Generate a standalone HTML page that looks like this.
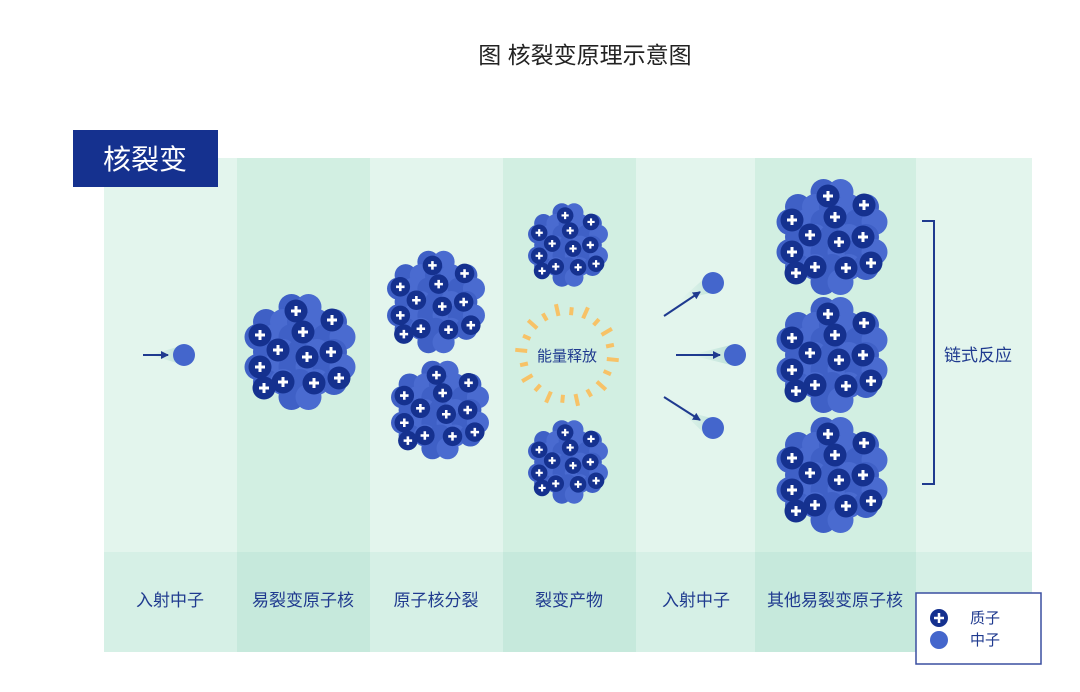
<!DOCTYPE html>
<html><head><meta charset="utf-8"><style>
body{margin:0;width:1080px;height:687px;background:#fff;overflow:hidden;font-family:"Liberation Sans","Noto Sans CJK SC",sans-serif}
</style></head><body>
<svg id="s" width="1080" height="687" xmlns="http://www.w3.org/2000/svg" font-family="Liberation Sans, Noto Sans CJK SC, sans-serif">
<defs>
<linearGradient id="tr" x1="0" x2="1"><stop offset="0" stop-color="#c4e6dc" stop-opacity="0"/><stop offset="1" stop-color="#b9dfd6"/></linearGradient>
<marker id="ah" markerWidth="8" markerHeight="8" refX="7" refY="4" orient="auto" markerUnits="userSpaceOnUse"><path d="M0,0 L8,4 L0,8z" fill="#1f3a8f"/></marker>
</defs>
<text x="585" y="63" font-size="23" text-anchor="middle" fill="#222">图 核裂变原理示意图</text>
<rect x="104" y="158" width="928" height="394" fill="#e3f5ed"/>
<rect x="237" y="158" width="133" height="394" fill="#d2efe2"/>
<rect x="503" y="158" width="133" height="394" fill="#d2efe2"/>
<rect x="755" y="158" width="161" height="394" fill="#d2efe2"/>
<rect x="104" y="552" width="928" height="100" fill="#d6f0e6"/>
<rect x="237" y="552" width="133" height="100" fill="#c6e9dc"/>
<rect x="503" y="552" width="133" height="100" fill="#c6e9dc"/>
<rect x="755" y="552" width="161" height="100" fill="#c6e9dc"/>
<rect x="73" y="130" width="145" height="57" fill="#15318f"/>
<text x="145" y="169" font-size="28" text-anchor="middle" fill="#fff">核裂变</text>
<g id="cl"></g>
<g id="sun"></g>
<text x="567" y="361" font-size="15" text-anchor="middle" fill="#1f3a8f">能量释放</text>
<path d="M150,355 L184,345 L184,365z" fill="url(#tr)"/>
<line x1="143" y1="355" x2="168" y2="355" stroke="#1f3a8f" stroke-width="2" marker-end="url(#ah)"/>
<circle cx="184" cy="355" r="11" fill="#4466cc"/>
<path d="M680,300 L707,276 L719,291z" fill="url(#tr)"/>
<line x1="664" y1="316" x2="700" y2="292" stroke="#1f3a8f" stroke-width="2" marker-end="url(#ah)"/>
<circle cx="713" cy="283" r="11" fill="#4466cc"/>
<path d="M690,355 L735,344 L735,366z" fill="url(#tr)"/>
<line x1="676" y1="355" x2="720" y2="355" stroke="#1f3a8f" stroke-width="2" marker-end="url(#ah)"/>
<circle cx="735" cy="355" r="11" fill="#4466cc"/>
<path d="M680,410 L719,420 L707,436z" fill="url(#tr)"/>
<line x1="664" y1="397" x2="700" y2="420" stroke="#1f3a8f" stroke-width="2" marker-end="url(#ah)"/>
<circle cx="713" cy="428" r="11" fill="#4466cc"/>
<path d="M922,221 L934,221 L934,484 L922,484" fill="none" stroke="#1f3a8f" stroke-width="2"/>
<text x="978" y="361" font-size="17" text-anchor="middle" fill="#1f3a8f">链式反应</text>
<g font-size="17" fill="#1f3a8f" text-anchor="middle">
<text x="170" y="606">入射中子</text>
<text x="303" y="606">易裂变原子核</text>
<text x="436" y="606">原子核分裂</text>
<text x="569" y="606">裂变产物</text>
<text x="696" y="606">入射中子</text>
<text x="835" y="606">其他易裂变原子核</text>
</g>
<rect x="916" y="593" width="125" height="71" fill="#fff" stroke="#3a4fa0" stroke-width="1.5"/>
<circle cx="939" cy="618" r="9" fill="#15318f"/><path d="M934,618h10M939,613v10" stroke="#fff" stroke-width="2.5"/>
<circle cx="939" cy="640" r="9" fill="#4466cc"/>
<text x="985" y="623" font-size="15" text-anchor="middle" fill="#1f3a8f">质子</text>
<text x="985" y="645" font-size="15" text-anchor="middle" fill="#1f3a8f">中子</text>
</svg>
<script>
var NS="http://www.w3.org/2000/svg",g=document.getElementById('cl');
function c(x,y,r,f){var e=document.createElementNS(NS,'circle');e.setAttribute('cx',x);e.setAttribute('cy',y);e.setAttribute('r',r);e.setAttribute('fill',f);g.appendChild(e);}
function p(x,y,s){c(x,y,11.5*s,'#15318f');var e=document.createElementNS(NS,'path');var a=5*s;e.setAttribute('d','M'+(x-a)+','+y+'h'+(2*a)+'M'+x+','+(y-a)+'v'+(2*a));e.setAttribute('stroke','#fff');e.setAttribute('stroke-width',3*s);g.appendChild(e);}
var P=[[61,21],[97,30],[25,45],[68,42],[43,60],[72,67],[96,62],[25,77],[48,92],[29,98],[79,93],[104,88]];
function cluster(cx,cy,s,sx,sy){sx=sx||1;sy=sy||1;
 for(var j=-3;j<=3;j++)for(var i=-3;i<=3;i++){var x=i*17+(j%2?8.5:0),y=j*15;if((x*x)/(48*48)+(y*y)/(46*46)<=1)c(cx+x*s*sx,cy+y*s*sy,13*s,(i+j)%2?'#4a6bd0':'#3f60c6');}
 P.forEach(function(q){p(cx+(q[0]-65)*s*sx,cy+(q[1]-62)*s*sy,s);});}
cluster(300,352,1);
cluster(436,302,0.85,1.05,1.05);
cluster(440,410,0.85,1.05,1.0);
cluster(568,245,0.72);
cluster(568,462,0.72);
cluster(832,237,1);
cluster(832,355,1);
cluster(832,475,1);
var sun=document.getElementById('sun');
for(var k=0;k<20;k++){var a=k*Math.PI*2/20+0.1,r1=40,r2=r1+(k%2?8:12);var l=document.createElementNS(NS,'line');
l.setAttribute('x1',567+r1*Math.cos(a));l.setAttribute('y1',355+r1*Math.sin(a));l.setAttribute('x2',567+r2*Math.cos(a));l.setAttribute('y2',355+r2*Math.sin(a));l.setAttribute('stroke','#f7c267');l.setAttribute('stroke-width',4);sun.appendChild(l);}
</script>
</body></html>
